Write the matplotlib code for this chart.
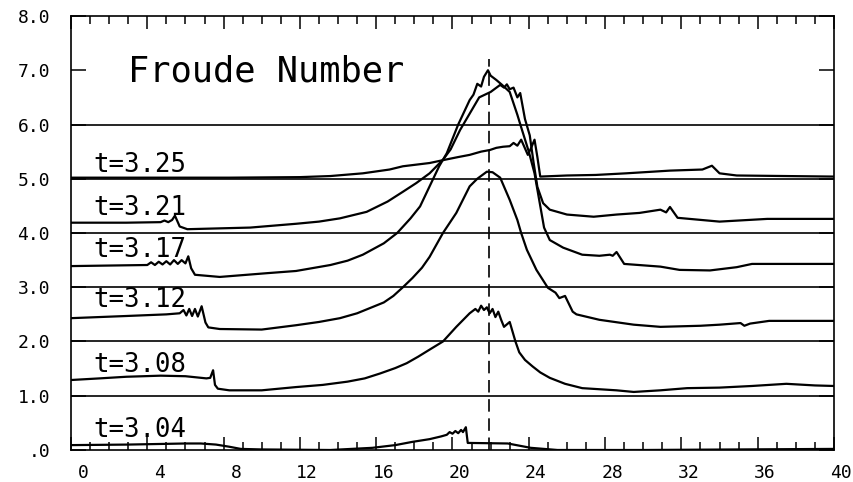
import matplotlib
matplotlib.use("Agg")
import matplotlib.pyplot as plt
import matplotlib.transforms as mtransforms
from matplotlib.ticker import MultipleLocator

# Froude number profiles, stacked one unit apart
labels = ["t=3.04", "t=3.08", "t=3.12", "t=3.17", "t=3.21", "t=3.25"]

x04 = [0, 3, 6, 6.8, 7.6, 8.3, 8.9, 10, 13.6, 15.8, 17.0, 17.9, 18.8, 19.4, 19.7,
       19.85, 20.0, 20.15, 20.3, 20.45, 20.55, 20.7, 20.8, 20.9, 22.9, 24.1, 25.5, 30, 40]
y04 = [0.09, 0.1, 0.12, 0.12, 0.1, 0.06, 0.02, 0.01, 0.0, 0.04, 0.09, 0.15, 0.2, 0.25, 0.28,
       0.33, 0.3, 0.35, 0.31, 0.37, 0.33, 0.42, 0.13, 0.13, 0.12, 0.04, 0.0, 0.0, 0.02]

x08 = [0, 1.5, 2.9, 4.7, 6.0, 7.1, 7.3, 7.45, 7.55, 7.7, 8.3, 10, 11.8, 13.2, 14.5, 15.4,
       16.2, 17.0, 17.6, 18.2, 18.8, 19.5, 20.2, 20.9, 21.2, 21.35, 21.5, 21.65, 21.8,
       21.95, 22.1, 22.25, 22.4, 22.55, 22.7, 23.0, 23.3, 23.5, 23.8, 24.2, 24.6, 25.1,
       25.9, 26.8, 27.7, 28.6, 29.5, 30.9, 32.3, 34, 35.7, 37.5, 39, 40]
y08 = [1.29, 1.32, 1.35, 1.37, 1.36, 1.32, 1.33, 1.47, 1.2, 1.13, 1.1, 1.1, 1.16, 1.2,
       1.26, 1.32, 1.41, 1.51, 1.6, 1.72, 1.85, 2.0, 2.27, 2.52, 2.6, 2.55, 2.66, 2.58,
       2.63, 2.52, 2.6, 2.45, 2.55, 2.4, 2.27, 2.36, 2.0, 1.8, 1.66, 1.54, 1.43, 1.33,
       1.22, 1.14, 1.12, 1.1, 1.07, 1.1, 1.14, 1.15, 1.18, 1.22, 1.19, 1.18]

x12 = [0, 2.9, 5.0, 5.7, 5.9, 6.05, 6.2, 6.35, 6.5, 6.65, 6.85, 7.05, 7.2, 7.8, 10, 11.8,
       13.0, 14.1, 15.0, 15.7, 16.4, 16.9, 17.4, 17.9, 18.4, 18.8, 19.5, 20.2, 20.9, 21.3,
       21.8, 22.1, 22.5, 23.0, 23.4, 23.6, 23.9, 24.4, 25.0, 25.4, 25.6, 25.9, 26.3, 26.5,
       27.7, 29.5, 30.9, 33, 34, 35.1, 35.3, 35.6, 36.6, 40]
y12 = [2.43, 2.47, 2.5, 2.52, 2.58, 2.48, 2.6, 2.47, 2.6, 2.46, 2.65, 2.35, 2.26, 2.23,
       2.22, 2.3, 2.36, 2.43, 2.52, 2.62, 2.72, 2.84, 3.0, 3.17, 3.36, 3.56, 4.0, 4.37,
       4.86, 5.0, 5.13, 5.12, 5.02, 4.61, 4.24, 4.0, 3.69, 3.32, 2.99, 2.9, 2.8, 2.84,
       2.55, 2.5, 2.4, 2.31, 2.27, 2.29, 2.31, 2.34, 2.29, 2.33, 2.38, 2.38]

x17 = [0, 2, 4.0, 4.2, 4.4, 4.6, 4.8, 5.0, 5.2, 5.4, 5.6, 5.8, 6.0, 6.15, 6.3, 6.5, 7.8,
       10.3, 11.8, 13.6, 14.5, 15.3, 16.4, 17.1, 17.8, 18.3, 18.8, 19.3, 19.7, 20.3, 20.9,
       21.1, 21.3, 21.5, 21.65, 21.86, 22.0, 22.3, 22.6, 23.0, 23.4, 23.6, 24.0, 24.3,
       24.55, 24.8, 25.1, 25.8, 26.8, 27.7, 28.25, 28.4, 28.6, 29.0, 30.9, 31.9,
       33.5, 34.9, 35.7, 40]
y17 = [3.39, 3.4, 3.41, 3.46, 3.41, 3.47, 3.42, 3.48, 3.42, 3.5, 3.43, 3.5, 3.44, 3.57,
       3.35, 3.23, 3.19, 3.26, 3.3, 3.41, 3.49, 3.6, 3.81, 4.0, 4.27, 4.49, 4.86, 5.23,
       5.47, 6.0, 6.45, 6.55, 6.75, 6.7, 6.88, 7.0, 6.9, 6.82, 6.73, 6.6, 6.18, 5.95,
       5.5, 5.1, 4.6, 4.1, 3.87, 3.73, 3.6, 3.58, 3.6, 3.58, 3.65, 3.43, 3.38,
       3.32, 3.31, 3.37, 3.43, 3.43]

x21 = [0, 2.9, 4.7, 4.9, 5.1, 5.3, 5.45, 5.7, 6.1, 9.4, 11.8, 13.0, 14.1, 15.5, 16.6,
       17.4, 18.1, 18.8, 19.5, 19.9, 20.4, 20.9, 21.4, 22.0, 22.5, 22.7, 22.85, 23.0,
       23.2, 23.4, 23.55, 23.8, 24.05, 24.25, 24.45, 24.75, 25.1, 26.0, 27.4, 28.6, 29.8,
       30.9, 31.2, 31.4, 31.8, 34, 36.5, 40]
y21 = [4.19, 4.19, 4.2, 4.23, 4.2, 4.24, 4.32, 4.12, 4.07, 4.1, 4.17, 4.21, 4.27, 4.39,
       4.58, 4.76, 4.92, 5.1, 5.35, 5.54, 5.9, 6.2, 6.5, 6.6, 6.73, 6.68, 6.74, 6.65,
       6.68, 6.5, 6.58, 6.1, 5.8, 5.3, 4.85, 4.55, 4.43, 4.34, 4.3, 4.34, 4.37, 4.43,
       4.38, 4.48, 4.28, 4.21, 4.26, 4.26]

x25 = [0, 8.3, 12.0, 13.6, 15.3, 16.7, 17.4, 18.8, 19.6, 20.3, 20.9, 21.5, 21.96, 22.3,
       22.65, 23.0, 23.2, 23.4, 23.6, 23.75, 23.95, 24.1, 24.3, 24.45, 24.6, 26.0, 27.5,
       29.1, 31.4, 33.1, 33.6, 34.0, 34.9, 40]
y25 = [5.02, 5.02, 5.03, 5.05, 5.1, 5.17, 5.23, 5.29, 5.35, 5.4, 5.44, 5.5, 5.53, 5.57,
       5.59, 5.6, 5.66, 5.61, 5.72, 5.6, 5.44, 5.55, 5.72, 5.4, 5.04, 5.06, 5.07, 5.1,
       5.15, 5.17, 5.24, 5.1, 5.06, 5.04]

label_y = [0.24, 1.44, 2.64, 3.56, 4.34, 5.13]
baselines = [1, 2, 3, 4, 5, 6]
dash_x = 21.9
dash_top = 7.2

y_ticks = [0, 1, 2, 3, 4, 5, 6, 7, 8]
y_tick_labels = [".0", "1.0", "2.0", "3.0", "4.0", "5.0", "6.0", "7.0", "8.0"]
x_ticks = [0, 4, 8, 12, 16, 20, 24, 28, 32, 36, 40]

mono = "DejaVu Sans Mono"

fig = plt.figure(figsize=(8.54, 4.82), dpi=100)
ax = fig.add_axes([0.0831, 0.0664, 0.8935, 0.9004])

for b in baselines:
    ax.axhline(b, color="black", lw=1.2)

series = [(x04, y04), (x08, y08), (x12, y12), (x17, y17), (x21, y21), (x25, y25)]
for (xs, ys), lab, ly in zip(series, labels, label_y):
    ax.plot(xs, ys, color="black", lw=1.6)
    ax.text(1.15, ly, lab, family=mono, fontsize=18.5, va="baseline", ha="left")

ax.plot([dash_x, dash_x], [0, dash_top], color="black", lw=1.2, ls=(0, (7.5, 4)))

ax.text(3.0, 6.79, "Froude Number", family=mono, fontsize=25.5, va="baseline", ha="left")

ax.set_xlim(0, 40)
ax.set_ylim(0, 8)
ax.set_xticks(x_ticks)
ax.set_xticklabels([str(v) for v in x_ticks], family=mono, fontsize=13)
ax.xaxis.set_minor_locator(MultipleLocator(1))
ax.set_yticks(y_ticks)
ax.set_yticklabels(y_tick_labels, family=mono, fontsize=13)

ax.tick_params(axis="x", which="major", direction="in", length=9.5, width=1.1,
               top=True, pad=10)
ax.tick_params(axis="x", which="minor", direction="in", length=5.8, width=1.1, top=True)
ax.tick_params(axis="y", which="major", direction="in", length=11, width=1.1,
               right=True, pad=15)
for s in ax.spines.values():
    s.set_linewidth(1.2)

# labels in the original sit to the right of their ticks
offset = mtransforms.ScaledTranslation(0.18, 0, fig.dpi_scale_trans)
for lab in ax.get_xticklabels():
    lab.set_horizontalalignment("right")
    lab.set_transform(lab.get_transform() + offset)

fig.savefig("out.png", dpi=100)
